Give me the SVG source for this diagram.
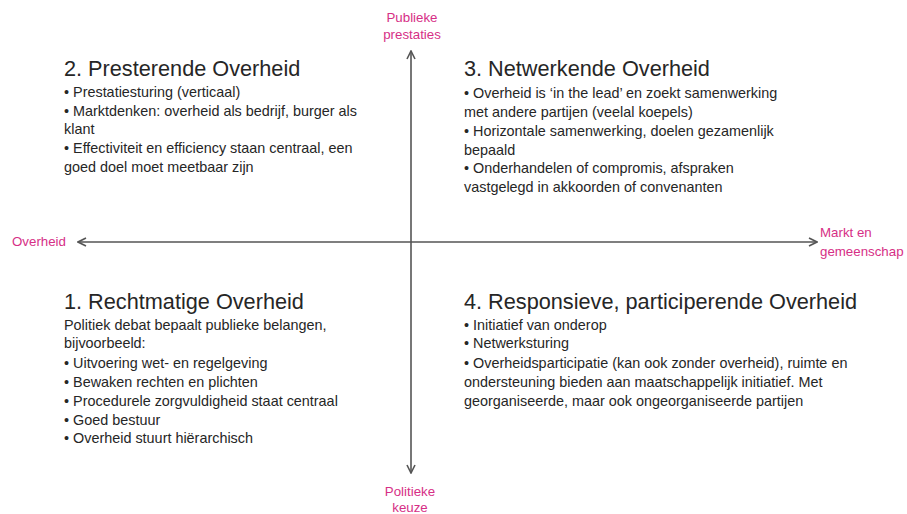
<svg xmlns="http://www.w3.org/2000/svg" width="907" height="514" viewBox="0 0 907 514">
<defs>
<style>
.h{font-family:"Liberation Sans",Arial,sans-serif;font-size:21.7px;fill:#262626}
.b{font-family:"Liberation Sans",Arial,sans-serif;font-size:14.4px;fill:#262626}
.p{font-family:"Liberation Sans",Arial,sans-serif;font-size:13.3px;fill:#d62f86}
.ax{stroke:#555;stroke-width:1.6;fill:none}
</style>
<marker id="ah" viewBox="0 0 10 10" refX="9" refY="5" markerWidth="10" markerHeight="10" markerUnits="userSpaceOnUse" orient="auto-start-reverse">
<polyline points="1,1 9,5 1,9" fill="none" stroke="#555" stroke-width="1.6"/>
</marker>
</defs>
<rect width="907" height="514" fill="#fff"/>
<g id="connectors">
<line class="ax" x1="411" y1="51" x2="411" y2="473" marker-start="url(#ah)" marker-end="url(#ah)"/>
<line class="ax" x1="78" y1="242" x2="817" y2="242" marker-start="url(#ah)" marker-end="url(#ah)"/>
</g>
<g id="axis-labels">
<text class="p" text-anchor="middle" x="412" y="22">Publieke</text>
<text class="p" text-anchor="middle" x="412" y="39">prestaties</text>
<text class="p" x="12" y="246">Overheid</text>
<text class="p" x="820" y="237">Markt en</text>
<text class="p" x="820" y="256">gemeenschap</text>
<text class="p" text-anchor="middle" x="410" y="496">Politieke</text>
<text class="p" text-anchor="middle" x="410" y="512">keuze</text>
</g>
<g id="q2">
<text class="h" x="64" y="76">2. Presterende Overheid</text>
<text class="b" x="64" y="97">• Prestatiesturing (verticaal)</text>
<text class="b" x="64" y="116">• Marktdenken: overheid als bedrijf, burger als</text>
<text class="b" x="64" y="134">klant</text>
<text class="b" x="64" y="153">• Effectiviteit en efficiency staan centraal, een</text>
<text class="b" x="64" y="172">goed doel moet meetbaar zijn</text>
</g>
<g id="q3">
<text class="h" x="464" y="76">3. Netwerkende Overheid</text>
<text class="b" x="464" y="98">• Overheid is ‘in the lead’ en zoekt samenwerking</text>
<text class="b" x="464" y="117">met andere partijen (veelal koepels)</text>
<text class="b" x="464" y="136">• Horizontale samenwerking, doelen gezamenlijk</text>
<text class="b" x="464" y="155">bepaald</text>
<text class="b" x="464" y="173">• Onderhandelen of compromis, afspraken</text>
<text class="b" x="464" y="192">vastgelegd in akkoorden of convenanten</text>
</g>
<g id="q1">
<text class="h" x="64" y="309">1. Rechtmatige Overheid</text>
<text class="b" x="64" y="330">Politiek debat bepaalt publieke belangen,</text>
<text class="b" x="64" y="348">bijvoorbeeld:</text>
<text class="b" x="64" y="368">• Uitvoering wet- en regelgeving</text>
<text class="b" x="64" y="387">• Bewaken rechten en plichten</text>
<text class="b" x="64" y="406">• Procedurele zorgvuldigheid staat centraal</text>
<text class="b" x="64" y="425">• Goed bestuur</text>
<text class="b" x="64" y="443">• Overheid stuurt hiërarchisch</text>
</g>
<g id="q4">
<text class="h" x="464" y="309">4. Responsieve, participerende Overheid</text>
<text class="b" x="464" y="330">• Initiatief van onderop</text>
<text class="b" x="464" y="348">• Netwerksturing</text>
<text class="b" x="464" y="368">• Overheidsparticipatie (kan ook zonder overheid), ruimte en</text>
<text class="b" x="464" y="387">ondersteuning bieden aan maatschappelijk initiatief. Met</text>
<text class="b" x="464" y="406">georganiseerde, maar ook ongeorganiseerde partijen</text>
</g>
</svg>
